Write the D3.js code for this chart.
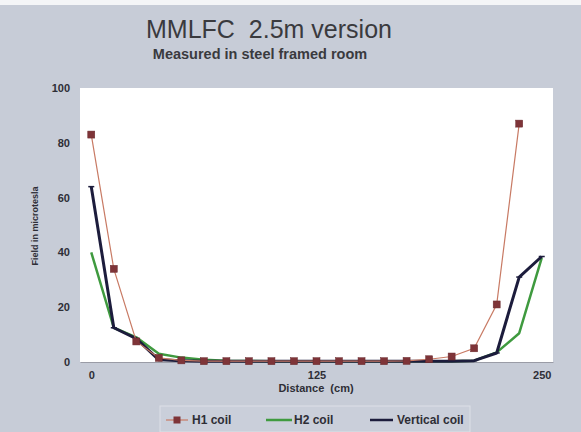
<!DOCTYPE html>
<html><head><meta charset="utf-8">
<script src="https://cdn.jsdelivr.net/npm/d3@7"></script>
<style>html,body{margin:0;padding:0;background:#c7ccd7;}svg{display:block;}text{white-space:pre;}</style>
</head><body>
<script>
const distances = [0,12.5,25,37.5,50,62.5,75,87.5,100,112.5,125,137.5,150,162.5,175,187.5,200,212.5,225,237.5,250];
const h1Coil =       [83, 34, 7.5, 1.5, 0.6, 0.3, 0.3, 0.3, 0.3, 0.3, 0.3, 0.3, 0.3, 0.3, 0.4, 1, 2, 5, 21, 87, null];
const h2Coil =       [40, 12.5, 9, 3, 1.6, 0.8, 0.5, 0.4, 0.3, 0.3, 0.3, 0.3, 0.3, 0.3, 0.3, 0.3, 0.3, 0.5, 3.5, 10.5, 38];
const verticalCoil = [64, 12.5, 8.5, 0.8, 0.5, 0.3, 0.3, 0.3, 0.3, 0.3, 0.3, 0.3, 0.3, 0.3, 0.3, 0.3, 0.3, 0.5, 3.3, 31, 38.5];
const xTickLabels = ["0","125","250"];
const yTicks = [0,20,40,60,80,100];

const W=581,H=432;
const svg=d3.select("body").append("svg").attr("width",W).attr("height",H);
const font="Liberation Sans, Arial, sans-serif";
svg.append("rect").attr("width",W).attr("height",H).attr("fill","#c7ccd7");
svg.append("rect").attr("width",W).attr("height",5).attr("fill","#f4f5f7");

const L=80,R=553,T=88,B=362;
const x=d3.scalePoint().domain(distances).range([L,R]).padding(0.5);
const y=d3.scaleLinear().domain([0,100]).range([B,T]);

svg.append("rect").attr("x",L).attr("y",T).attr("width",R-L).attr("height",B-T).attr("fill","#ffffff");

// titles
svg.append("text").attr("x",269).attr("y",38).attr("text-anchor","middle").attr("xml:space","preserve")
  .attr("font-family",font).attr("font-size",25).attr("fill","#3a3a3e").text("MMLFC  2.5m version");
svg.append("text").attr("x",260).attr("y",59).attr("text-anchor","middle")
  .attr("font-family",font).attr("font-weight","bold").attr("font-size",14.5).attr("fill","#3a3a3e").text("Measured in steel framed room");

// y axis
const yAxis=svg.append("g").attr("transform",`translate(${L},0)`)
  .call(d3.axisLeft(y).tickValues(yTicks).tickSize(0).tickPadding(10));
yAxis.select(".domain").remove();
yAxis.selectAll("text").attr("font-family",font).attr("font-weight","bold").attr("font-size",11).attr("fill","#2e2e36");

// x axis
const xAxis=svg.append("g").attr("transform",`translate(0,${B})`)
  .call(d3.axisBottom(x).tickValues(distances.filter(d=>xTickLabels.includes(String(d)))).tickSize(0).tickPadding(9));
xAxis.select(".domain").attr("stroke","#9a9ca6").attr("stroke-width",1);
xAxis.selectAll("text").attr("font-family",font).attr("font-weight","bold").attr("font-size",11).attr("fill","#2e2e36");

svg.append("text").attr("x",316).attr("y",392).attr("text-anchor","middle").attr("xml:space","preserve")
  .attr("font-family",font).attr("font-weight","bold").attr("font-size",11).attr("fill","#2e2e36").text("Distance  (cm)");
svg.append("text").attr("transform","translate(38,226) rotate(-90)").attr("text-anchor","middle")
  .attr("font-family",font).attr("font-weight","bold").attr("font-size",9).attr("fill","#2e2e36").text("Field in microtesla");

const line=d3.line().defined(d=>d[1]!=null).x(d=>x(d[0])).y(d=>y(d[1]));
const pts=arr=>distances.map((d,i)=>[d,arr[i]]);

// H2 green
svg.append("path").datum(pts(h2Coil)).attr("d",line).attr("fill","none").attr("stroke","#3f9a3f").attr("stroke-width",2.5).attr("stroke-linejoin","round");
// Vertical dark
svg.append("path").datum(pts(verticalCoil)).attr("d",line).attr("fill","none").attr("stroke","#1c1c3c").attr("stroke-width",3).attr("stroke-linejoin","round");
svg.selectAll(".vm").data(pts(verticalCoil)).enter().append("line")
  .attr("x1",d=>x(d[0])-3).attr("x2",d=>x(d[0])+3).attr("y1",d=>y(d[1])).attr("y2",d=>y(d[1]))
  .attr("stroke","#1c1c3c").attr("stroke-width",1.5);
// H1
svg.append("path").datum(pts(h1Coil)).attr("d",line).attr("fill","none").attr("stroke","#c87a64").attr("stroke-width",1.2);
svg.selectAll(".h1m").data(pts(h1Coil).filter(d=>d[1]!=null)).enter().append("rect")
  .attr("x",d=>x(d[0])-3.5).attr("y",d=>y(d[1])-3.5).attr("width",7).attr("height",7)
  .attr("fill","#7e3438").attr("stroke","#6a2a2e").attr("stroke-width",0.5);

// legend
svg.append("rect").attr("x",160).attr("y",406).attr("width",310).attr("height",26)
  .attr("fill","#cacfda").attr("stroke","#dde0e7").attr("stroke-width",1);
const ly=420;
const lf=g=>g.attr("font-family",font).attr("font-weight","bold").attr("font-size",12).attr("fill","#2e2e36");
svg.append("line").attr("x1",166).attr("x2",188).attr("y1",ly).attr("y2",ly).attr("stroke","#c87a64").attr("stroke-width",1.2);
svg.append("rect").attr("x",173.5).attr("y",ly-3.5).attr("width",7).attr("height",7).attr("fill","#7e3438");
svg.append("text").attr("x",192).attr("y",ly+4).call(lf).text("H1 coil");
svg.append("line").attr("x1",266).attr("x2",292).attr("y1",ly).attr("y2",ly).attr("stroke","#3f9a3f").attr("stroke-width",2.5);
svg.append("text").attr("x",294).attr("y",ly+4).call(lf).text("H2 coil");
svg.append("line").attr("x1",370).attr("x2",393).attr("y1",ly).attr("y2",ly).attr("stroke","#1c1c3c").attr("stroke-width",2.5);
svg.append("text").attr("x",397).attr("y",ly+4).call(lf).text("Vertical coil");
</script>
</body></html>
